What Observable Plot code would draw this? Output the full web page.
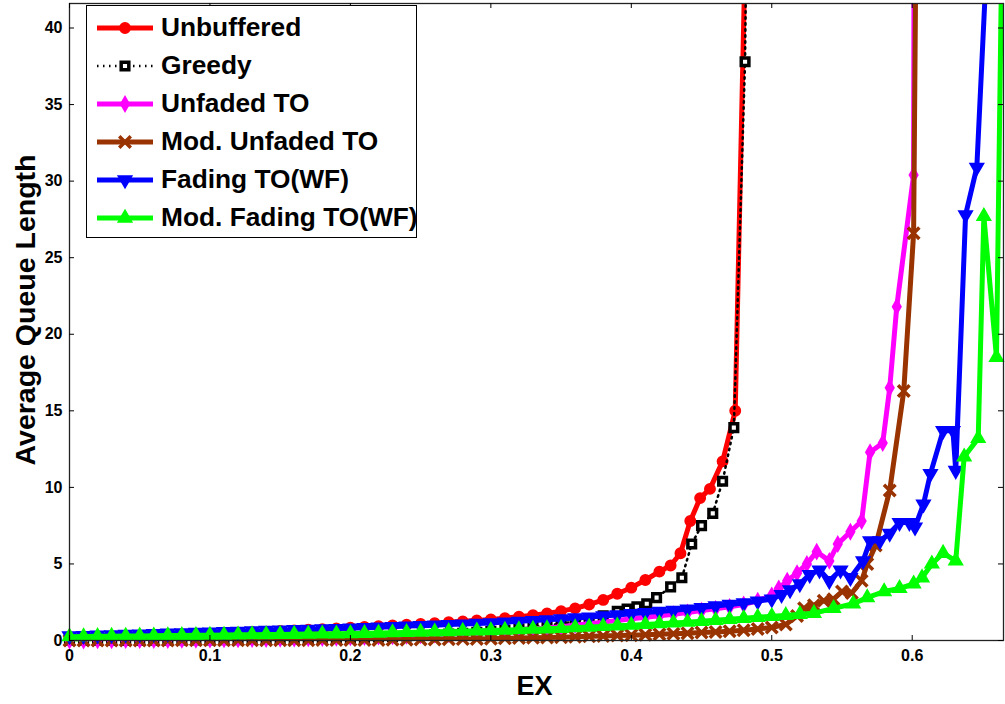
<!DOCTYPE html>
<html>
<head>
<meta charset="utf-8">
<script src="https://cdn.jsdelivr.net/npm/d3@7"></script>
<script src="https://cdn.jsdelivr.net/npm/@observablehq/plot@0.6"></script>
<style>
  html, body { margin: 0; padding: 0; background: #fff; }
  #wrap { position: relative; width: 1005px; height: 704px; font-family: "Liberation Sans", Arial, sans-serif; }
  #legend { position: absolute; left: 86px; top: 5px; width: 329px; height: 231px; border: 1.5px solid #000; background: #fff; }
  .row { position: absolute; left: 0; height: 38px; display: flex; align-items: center; }
  .row span { font-weight: bold; font-size: 26.3px; color: #000; margin-left: 4px; white-space: nowrap; }
</style>
</head>
<body>
<div id="wrap"><div id="chart"></div><div id="legend"></div></div>
<script>
// ---- data ----
const seriesNames = ["Unbuffered", "Greedy", "Unfaded TO", "Mod. Unfaded TO", "Fading TO(WF)", "Mod. Fading TO(WF)"];
const seriesColors = ["#ff0000", "#000000", "#ff00ff", "#993300", "#0000ff", "#00ff00"];
const xTicks = [0, 0.1, 0.2, 0.3, 0.4, 0.5, 0.6];
const yTicks = [0, 5, 10, 15, 20, 25, 30, 35, 40];

const unbufferedX = [0,0.01,0.02,0.03,0.04,0.05,0.06,0.07,0.08,0.09,0.10,0.11,0.12,0.13,0.14,0.15,0.16,0.17,0.18,0.19,0.20,0.21,0.22,0.23,0.24,0.25,0.26,0.27,0.28,0.29,0.30,0.31,0.32,0.33,0.34,0.35,0.36,0.37,0.38,0.39,0.40,0.41,0.42,0.428,0.435,0.442,0.449,0.456,0.465,0.474,0.4823];
const unbufferedY = [0.2,0.22,0.24,0.26,0.28,0.30,0.33,0.36,0.39,0.42,0.45,0.48,0.51,0.54,0.58,0.62,0.66,0.70,0.74,0.79,0.84,0.88,0.93,0.98,1.03,1.08,1.13,1.19,1.25,1.31,1.38,1.46,1.55,1.65,1.77,1.92,2.1,2.35,2.65,3.05,3.45,3.95,4.5,4.9,5.7,7.8,9.3,9.9,11.7,15.0,50];

const greedyX = [0,0.01,0.02,0.03,0.04,0.05,0.06,0.07,0.08,0.09,0.10,0.11,0.12,0.13,0.14,0.15,0.16,0.17,0.18,0.19,0.20,0.21,0.22,0.23,0.24,0.25,0.26,0.27,0.28,0.29,0.30,0.31,0.32,0.33,0.34,0.35,0.36,0.37,0.38,0.39,0.397,0.404,0.411,0.418,0.428,0.436,0.443,0.45,0.458,0.465,0.473,0.481,0.4835];
const greedyY = [0,0,0,0.01,0.01,0.01,0.02,0.02,0.03,0.03,0.04,0.05,0.06,0.07,0.08,0.09,0.1,0.12,0.14,0.16,0.18,0.2,0.23,0.26,0.29,0.33,0.37,0.42,0.47,0.53,0.6,0.68,0.77,0.87,0.98,1.1,1.25,1.42,1.62,1.9,2.05,2.2,2.4,2.8,3.5,4.1,6.3,7.5,8.3,10.4,13.9,37.8,60];

const unfadedX = [0,0.01,0.02,0.03,0.04,0.05,0.06,0.07,0.08,0.09,0.10,0.11,0.12,0.13,0.14,0.15,0.16,0.17,0.18,0.19,0.20,0.21,0.22,0.23,0.24,0.25,0.26,0.27,0.28,0.29,0.30,0.31,0.32,0.33,0.34,0.35,0.36,0.37,0.38,0.39,0.40,0.41,0.42,0.43,0.44,0.45,0.46,0.47,0.48,0.49,0.50,0.505,0.511,0.518,0.525,0.532,0.541,0.547,0.556,0.564,0.570,0.579,0.584,0.589,0.601,0.6015];
const unfadedY = [0,0,0.01,0.01,0.02,0.02,0.03,0.03,0.04,0.05,0.06,0.07,0.08,0.09,0.10,0.11,0.12,0.14,0.16,0.18,0.20,0.22,0.25,0.28,0.31,0.34,0.38,0.42,0.46,0.51,0.56,0.62,0.68,0.75,0.82,0.9,1.0,1.1,1.2,1.3,1.42,1.52,1.62,1.72,1.83,1.95,2.07,2.2,2.35,2.6,2.95,3.4,3.9,4.4,5.0,5.8,5.2,6.3,7.1,7.8,12.3,12.9,16.5,21.8,30.4,55];

const modUnfadedX = [0,0.01,0.02,0.03,0.04,0.05,0.06,0.07,0.08,0.09,0.10,0.11,0.12,0.13,0.14,0.15,0.16,0.17,0.18,0.19,0.20,0.21,0.22,0.23,0.24,0.25,0.26,0.27,0.28,0.29,0.30,0.31,0.32,0.33,0.34,0.35,0.36,0.37,0.38,0.39,0.40,0.41,0.42,0.43,0.44,0.45,0.46,0.47,0.48,0.49,0.50,0.51,0.518,0.523,0.53,0.537,0.544,0.55,0.557,0.564,0.568,0.574,0.584,0.594,0.601,0.6035];
const modUnfadedY = [0,0,0,0,0,0,0,0,0.01,0.01,0.01,0.01,0.01,0.01,0.02,0.02,0.02,0.02,0.03,0.03,0.03,0.04,0.04,0.05,0.05,0.06,0.07,0.08,0.09,0.1,0.12,0.14,0.16,0.18,0.2,0.22,0.25,0.27,0.3,0.32,0.35,0.38,0.41,0.44,0.48,0.52,0.56,0.61,0.67,0.75,0.85,1.05,1.6,2.1,2.3,2.6,2.7,3.2,3.1,3.9,5.0,6.2,9.8,16.3,26.6,55];

const fadingX = [0,0.01,0.02,0.03,0.04,0.05,0.06,0.07,0.08,0.09,0.10,0.11,0.12,0.13,0.14,0.15,0.16,0.17,0.18,0.19,0.20,0.21,0.22,0.23,0.24,0.25,0.26,0.27,0.28,0.29,0.30,0.31,0.32,0.33,0.34,0.35,0.36,0.37,0.38,0.39,0.40,0.41,0.42,0.43,0.44,0.45,0.46,0.47,0.48,0.49,0.50,0.507,0.513,0.52,0.527,0.534,0.541,0.549,0.556,0.565,0.570,0.577,0.584,0.591,0.598,0.602,0.608,0.613,0.622,0.629,0.631,0.638,0.646,0.656];
const fadingY = [0.30,0.32,0.35,0.37,0.40,0.42,0.45,0.47,0.50,0.52,0.55,0.57,0.60,0.62,0.65,0.67,0.70,0.72,0.75,0.78,0.80,0.84,0.87,0.90,0.94,0.97,1.00,1.04,1.07,1.11,1.15,1.20,1.25,1.30,1.35,1.41,1.47,1.53,1.60,1.67,1.75,1.82,1.90,1.97,2.05,2.15,2.25,2.35,2.45,2.57,2.70,3.0,3.3,3.7,4.3,4.6,3.9,4.6,4.1,5.2,6.5,6.5,7.0,7.7,7.7,7.4,8.9,10.9,13.7,13.7,11.1,27.8,30.9,50];

const modFadingX = [0,0.01,0.02,0.03,0.04,0.05,0.06,0.07,0.08,0.09,0.10,0.11,0.12,0.13,0.14,0.15,0.16,0.17,0.18,0.19,0.20,0.21,0.22,0.23,0.24,0.25,0.26,0.27,0.28,0.29,0.30,0.31,0.32,0.33,0.34,0.35,0.36,0.37,0.38,0.39,0.40,0.41,0.42,0.43,0.44,0.45,0.46,0.47,0.48,0.49,0.50,0.51,0.52,0.53,0.544,0.558,0.568,0.58,0.591,0.601,0.607,0.614,0.622,0.631,0.637,0.647,0.651,0.660,0.6645];
const modFadingY = [0.25,0.26,0.27,0.28,0.29,0.30,0.31,0.32,0.33,0.34,0.35,0.36,0.37,0.38,0.39,0.40,0.41,0.42,0.43,0.44,0.45,0.47,0.49,0.51,0.53,0.55,0.57,0.59,0.61,0.63,0.65,0.68,0.71,0.74,0.77,0.80,0.84,0.88,0.92,0.96,1.00,1.05,1.10,1.15,1.20,1.26,1.32,1.38,1.45,1.52,1.58,1.64,1.71,1.78,2.1,2.4,2.8,3.2,3.4,3.7,4.1,5.0,5.7,5.2,12.0,13.2,27.7,18.5,50];

// ---- symbols ----
const triangleDown = {
  draw(ctx, size) {
    const s = Math.sqrt(size) * 0.6824, t = s / 2, u = s * Math.sqrt(3) / 2;
    ctx.moveTo(0, s); ctx.lineTo(u, -t); ctx.lineTo(-u, -t); ctx.closePath();
  }
};
const styles = [
  {symbol: d3.symbolCircle, r: 5.2, fill: seriesColors[0], stroke: seriesColors[0], sw: 1.5, lw: 5, dash: null},
  {symbol: d3.symbolSquare, r: 4.3, fill: "white", stroke: seriesColors[1], sw: 3.5, lw: 2.5, dash: "1.5,4.5"},
  {symbol: d3.symbolDiamond, r: 4.2, fill: seriesColors[2], stroke: seriesColors[2], sw: 2, lw: 5, dash: null},
  {symbol: d3.symbolTimes, r: 5.3, fill: "none", stroke: seriesColors[3], sw: 3.5, lw: 5, dash: null},
  {symbol: triangleDown, r: 6.5, fill: seriesColors[4], stroke: seriesColors[4], sw: 1.5, lw: 5, dash: null},
  {symbol: d3.symbolTriangle2, r: 6.5, fill: seriesColors[5], stroke: seriesColors[5], sw: 1.5, lw: 5, dash: null}
];

const xsList = [unbufferedX, greedyX, unfadedX, modUnfadedX, fadingX, modFadingX];
const ysList = [unbufferedY, greedyY, unfadedY, modUnfadedY, fadingY, modFadingY];

const W = 1005, H = 704, mL = 69, mR = 2, mT = 3, mB = 64;
const plotW = W - mL - mR, plotH = H - mT - mB;
const yMax = 41.6, xMax = 0.665;

const marks = [];
xsList.forEach((xs, i) => {
  const rows = xs.map((x, j) => ({x, y: ysList[i][j]}));
  const st = styles[i];
  marks.push(Plot.line(rows, {x: "x", y: "y", stroke: seriesColors[i], strokeWidth: st.lw, strokeDasharray: st.dash, strokeLinejoin: "round", clip: true}));
  marks.push(Plot.dot(rows.filter(d => d.y <= yMax && d.x <= xMax), {x: "x", y: "y", symbol: st.symbol, r: st.r, fill: st.fill, stroke: st.stroke, strokeWidth: st.sw}));
});

const chart = Plot.plot({
  width: W, height: H,
  marginLeft: mL, marginRight: mR, marginTop: mT, marginBottom: mB,
  style: {fontFamily: "'Liberation Sans', Arial, sans-serif", background: "white", color: "black"},
  x: {domain: [0, xMax]},
  y: {domain: [0, yMax]},
  marks: [
    ...marks,
    Plot.frame({stroke: "#222", strokeWidth: 1.3}),
    Plot.tickX(xTicks, {x: d => d, insetTop: plotH - 5, stroke: "black"}),
    Plot.tickX(xTicks, {x: d => d, insetBottom: plotH - 5, stroke: "black"}),
    Plot.tickY(yTicks, {y: d => d, insetRight: plotW - 5, stroke: "black"}),
    Plot.tickY(yTicks, {y: d => d, insetLeft: plotW - 5, stroke: "black"}),
    Plot.axisX({ticks: xTicks, tickSize: 0, tickPadding: 9, tickFormat: d => d === 0 ? "0" : d3.format(".1f")(d), fontSize: 16, fontWeight: "bold", label: null}),
    Plot.axisY({ticks: yTicks, tickSize: 0, tickPadding: 7, tickFormat: d3.format("d"), fontSize: 16, fontWeight: "bold", label: null}),
    Plot.text(["EX"], {frameAnchor: "bottom", dy: 46, fontSize: 27, fontWeight: "bold", lineAnchor: "middle", textAnchor: "middle", dx: -2}),
    Plot.text(["Average Queue Length"], {frameAnchor: "left", dx: -44, dy: -12, rotate: -90, fontSize: 28.5, fontWeight: "bold", lineAnchor: "middle", textAnchor: "middle", letterSpacing: "1px"})
  ]
});
document.getElementById("chart").appendChild(chart);

// ---- legend ----
const legend = d3.select("#legend");
seriesNames.forEach((name, i) => {
  const st = styles[i];
  const row = legend.append("div").attr("class", "row").style("top", (23 - 1.5 - 19 + i * 38) + "px");
  const svg = row.append("svg").attr("width", 70).attr("height", 38);
  svg.append("line").attr("x1", 10).attr("x2", 66).attr("y1", 19).attr("y2", 19)
    .attr("stroke", seriesColors[i]).attr("stroke-width", st.lw).attr("stroke-dasharray", st.dash);
  svg.append("path").attr("transform", "translate(38,19)")
    .attr("d", d3.symbol(st.symbol, Math.PI * st.r * st.r)())
    .attr("fill", st.fill).attr("stroke", st.stroke).attr("stroke-width", st.sw);
  row.append("span").text(name);
});
</script>
</body>
</html>
